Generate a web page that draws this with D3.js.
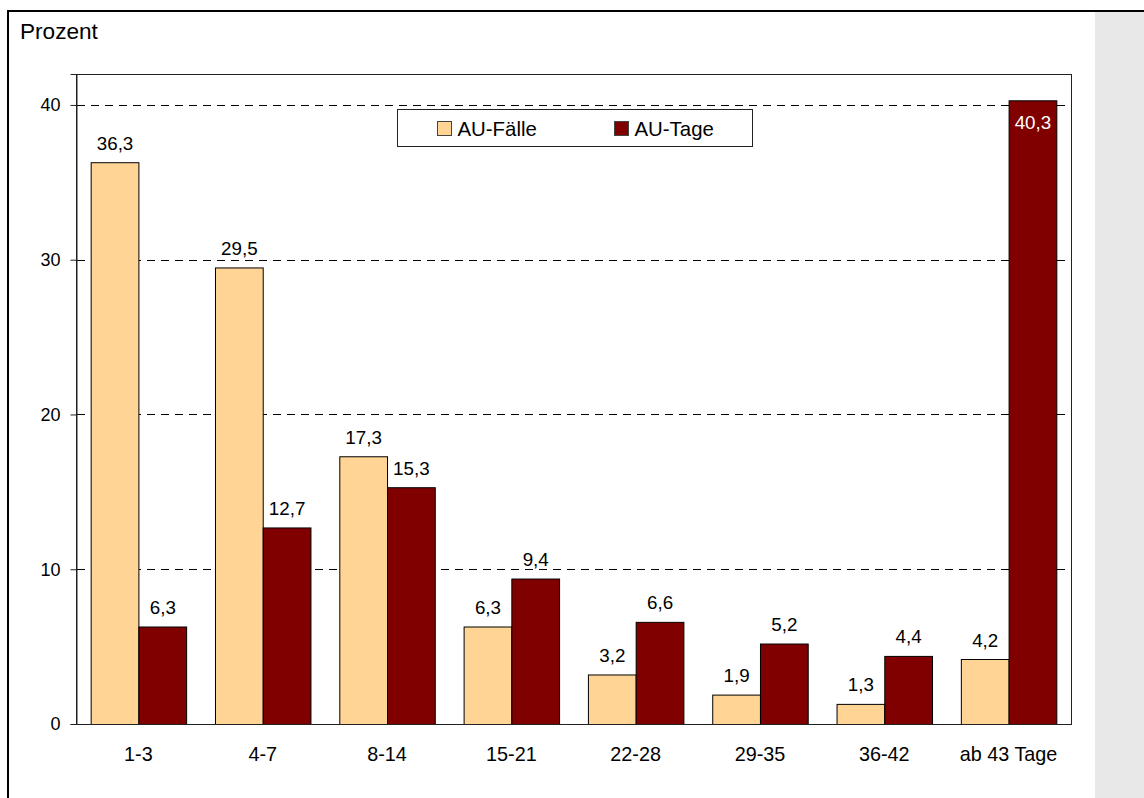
<!DOCTYPE html>
<html>
<head>
<meta charset="utf-8">
<script src="https://cdn.jsdelivr.net/npm/d3@7"></script>
<style>
  html, body { margin: 0; padding: 0; background: #fff; }
  svg { display: block; font-family: "Liberation Sans", Arial, sans-serif; }
</style>
</head>
<body>
<svg id="chart" width="1144" height="798"></svg>
<script>
// Dauer der Arbeitsunfähigkeit (Tage) – Anteile in Prozent
const categories = ["1-3", "4-7", "8-14", "15-21", "22-28", "29-35", "36-42", "ab 43 Tage"];
const seriesNames = ["AU-Fälle", "AU-Tage"];
const auFaelle = [36.3, 29.5, 17.3, 6.3, 3.2, 1.9, 1.3, 4.2];
const auTage = [6.3, 12.7, 15.3, 9.4, 6.6, 5.2, 4.4, 40.3];
const yTicks = [0, 10, 20, 30, 40];
const colors = ["#FFD495", "#800000"];

const FONT = "Liberation Sans, Arial, sans-serif";
const svg = d3.select("#chart");
const W = 1144, H = 798;

// Outer frame and grey side panel
svg.append("rect").attr("x", 1095).attr("y", 12).attr("width", W - 1095).attr("height", H - 12).attr("fill", "#e8e8e8");
svg.append("line").attr("x1", 7).attr("x2", W).attr("y1", 11).attr("y2", 11).attr("stroke", "#000").attr("stroke-width", 2);
svg.append("line").attr("x1", 8).attr("x2", 8).attr("y1", 10).attr("y2", H).attr("stroke", "#000").attr("stroke-width", 2);

const plot = { left: 76, top: 74, right: 1071, bottom: 724 };

const x0 = d3.scaleBand().domain(categories).range([plot.left, plot.right]).paddingInner(0.232).paddingOuter(0.118);
const x1 = d3.scaleBand().domain(seriesNames).range([0, x0.bandwidth()]);
const y = d3.scaleLinear().domain([0, 42]).range([plot.bottom, plot.top]);

// Plot area border
svg.append("rect")
  .attr("x", plot.left + 0.5).attr("y", plot.top + 0.5)
  .attr("width", plot.right - plot.left).attr("height", plot.bottom - plot.top)
  .attr("fill", "none").attr("stroke", "#222").attr("stroke-width", 1);

// Dashed gridlines
svg.append("g").selectAll("line")
  .data(yTicks.filter(t => t > 0))
  .join("line")
  .attr("x1", plot.left + 1).attr("x2", plot.right)
  .attr("y1", d => Math.round(y(d)) + 0.5).attr("y2", d => Math.round(y(d)) + 0.5)
  .attr("stroke", "#000").attr("stroke-dasharray", "8,6");

// Y axis
const yAxis = d3.axisLeft(y).tickValues(yTicks).tickSize(6).tickPadding(10).tickFormat(d3.format("d"));
const gy = svg.append("g").attr("transform", `translate(${plot.left + 0.5},0)`).call(yAxis);
gy.attr("font-family", FONT);
gy.select(".domain").attr("stroke", "#222");
gy.selectAll(".tick line").attr("stroke", "#222");
gy.selectAll(".tick text").attr("font-size", 18).attr("fill", "#000");

// X axis labels
const xAxis = d3.axisBottom(x0).tickSize(0).tickPadding(23);
const gx = svg.append("g").attr("transform", `translate(0,${plot.bottom})`).call(xAxis);
gx.attr("font-family", FONT);
gx.select(".domain").remove();
gx.selectAll(".tick text").attr("font-size", 19.8).attr("fill", "#000");

// Bars
const rows = categories.map((c, i) => ({ cat: c, vals: [auFaelle[i], auTage[i]] }));
const groups = svg.append("g").selectAll("g")
  .data(rows).join("g")
  .attr("transform", d => `translate(${x0(d.cat)},0)`);

groups.selectAll("rect")
  .data(d => d.vals.map((v, k) => ({ v, k })))
  .join("rect")
  .attr("x", d => x1(seriesNames[d.k]) + 0.5)
  .attr("y", d => y(d.v) + 0.5)
  .attr("width", x1.bandwidth())
  .attr("height", d => y(0) - y(d.v))
  .attr("fill", d => colors[d.k])
  .attr("stroke", "#000").attr("stroke-width", 1);

// Baseline
svg.append("line").attr("x1", plot.left).attr("x2", plot.right + 1)
  .attr("y1", plot.bottom + 0.5).attr("y2", plot.bottom + 0.5).attr("stroke", "#222");

// Value labels
const fmt = v => d3.format(".1f")(v).replace(".", ",");
groups.selectAll("text.val")
  .data(d => d.vals.map((v, k) => ({ v, k })))
  .join("text")
  .attr("class", "val")
  .attr("x", d => x1(seriesNames[d.k]) + x1.bandwidth() / 2 + 0.5)
  .attr("y", d => d.v > 39 ? y(d.v) + 29 : y(d.v) - 12.5)
  .attr("text-anchor", "middle")
  .attr("font-size", 18.8)
  .attr("fill", d => d.v > 39 ? "#fff" : "#000")
  .text(d => fmt(d.v));

// Legend
const lg = svg.append("g");
lg.append("rect").attr("x", 397.5).attr("y", 109.5).attr("width", 355).attr("height", 37)
  .attr("fill", "#fff").attr("stroke", "#222");
const legendX = [437.5, 614.5];
seriesNames.forEach((name, k) => {
  lg.append("rect").attr("x", legendX[k]).attr("y", 121.5).attr("width", 14).attr("height", 14)
    .attr("fill", colors[k]).attr("stroke", "#444");
  lg.append("text").attr("x", legendX[k] + 20).attr("y", 136)
    .attr("font-size", 20.4).attr("fill", "#000").text(name);
});

// Axis title
svg.append("text").attr("x", 20).attr("y", 39.3).attr("font-size", 22.6).attr("fill", "#000").text("Prozent");
</script>
</body>
</html>
